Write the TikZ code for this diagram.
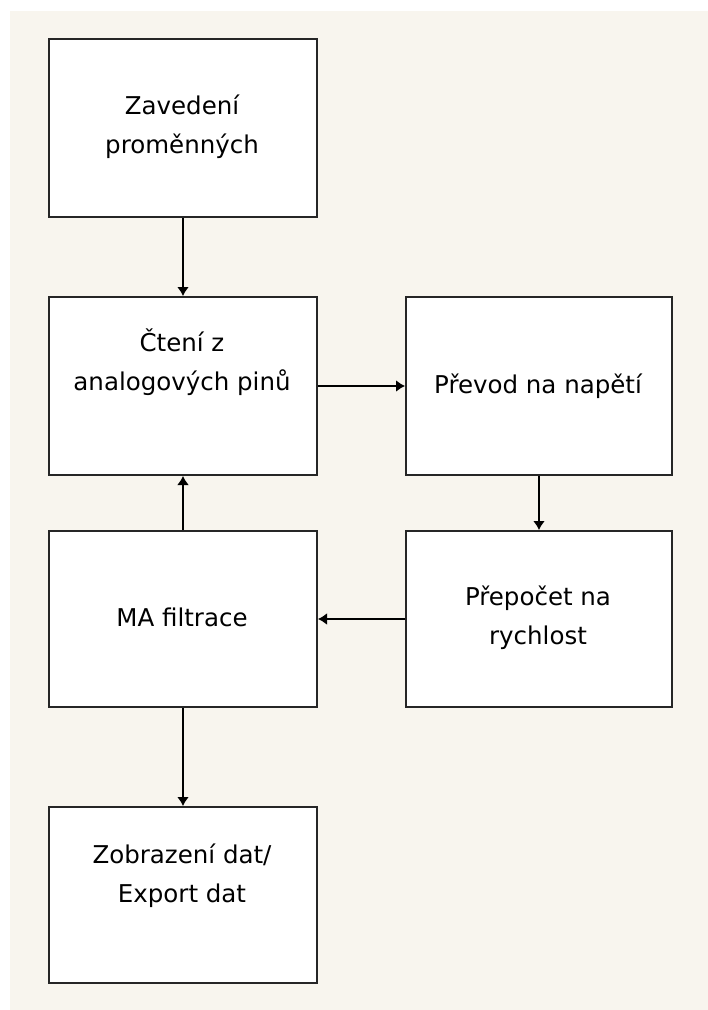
\documentclass[tikz,border=0pt]{standalone}
\usepackage{fontspec}
\setmainfont{DejaVu Sans}
\usetikzlibrary{arrows.meta}
\definecolor{bgbeige}{HTML}{F8F5EE}
\definecolor{boxline}{HTML}{262626}
\begin{document}
\begin{tikzpicture}[x=1pt,y=-1pt,
  box/.style={draw=boxline, line width=2pt, fill=white, minimum width=268pt, inner sep=0pt, anchor=north west},
  txt/.style={align=center, font=\fontsize{24.5}{39}\selectfont, text=black, inner sep=0pt},
  conn/.style={draw=black, line width=2pt, -{Latex[length=9pt,width=12pt]}}]
\useasboundingbox (0,0) rectangle (708,1010);
\fill[white] (0,0) rectangle (708,1010);
\fill[bgbeige] (10,11) rectangle (708,1010);
\node[box, minimum height=178pt] (b1) at (48,38) {};
\node[box, minimum height=178pt] (b2) at (48,296) {};
\node[box, minimum height=178pt, minimum width=266pt] (b3) at (405,296) {};
\node[box, minimum height=176pt] (b4) at (48,530) {};
\node[box, minimum height=176pt, minimum width=266pt] (b5) at (405,530) {};
\node[box, minimum height=176pt] (b6) at (48,806) {};
\node[txt] (t1) at (182,127) {Zavedení\\proměnných};
\node[txt] (t2) at (182,362) {Čtení z\\analogových pinů};
\node[txt] (t3) at (538,386) {Převod na napětí};
\node[txt] (t4) at (182,617) {MA filtrace};
\node[txt] (t5) at (538,618) {Přepočet na\\rychlost};
\node[txt] (t6) at (182,876) {Zobrazení dat/\\Export dat};
\draw[conn] (b1.south) -- (b2.north);
\draw[conn] (b2.east) -- (b3.west);
\draw[conn] (b3.south) -- (b5.north);
\draw[conn] (b5.west) -- (b4.east);
\draw[conn] (b4.north) -- (b2.south);
\draw[conn] (b4.south) -- (b6.north);
\end{tikzpicture}
\end{document}
